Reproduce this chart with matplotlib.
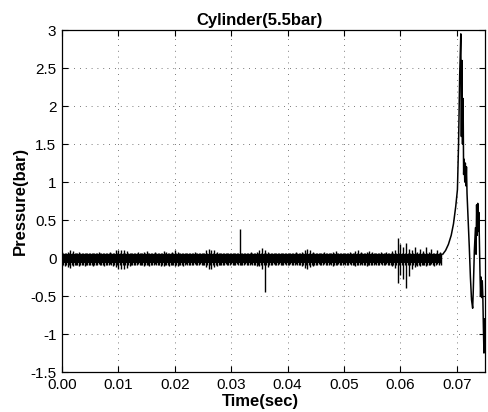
import numpy as np
import matplotlib
matplotlib.use('Agg')
import matplotlib.pyplot as plt
from matplotlib.ticker import FuncFormatter

# noise band of the baseline, one column every 0.5 ms (values in bar/100)
step = 0.0005
band_hi = [8, 7, 8, 10, 9, 7, 8, 7, 6, 7,
           7, 6, 7, 8, 7, 6, 7, 8, 7, 10,
           10, 11, 10, 9, 7, 6, 7, 8, 7, 8,
           9, 7, 6, 8, 7, 7, 9, 8, 7, 8,
           10, 8, 7, 6, 7, 7, 6, 8, 7, 6,
           7, 10, 12, 11, 10, 8, 7, 6, 7, 7,
           6, 7, 7, 38, 7, 6, 7, 8, 7, 8,
           10, 13, 10, 8, 7, 6, 7, 7, 6, 7,
           7, 6, 7, 8, 7, 8, 11, 12, 11, 8,
           7, 6, 7, 8, 7, 7, 8, 9, 7, 7,
           6, 7, 8, 7, 9, 10, 8, 7, 8, 9,
           8, 7, 7, 8, 7, 8, 7, 9, 10, 27,
           18, 15, 20, 12, 10, 14, 8, 12, 9, 14,
           8, 12, 7, 10, 8]
band_lo = [-11, -10, -12, -13, -11, -9, -10, -9, -10, -9,
           -9, -10, -9, -8, -9, -10, -9, -8, -10, -12,
           -14, -15, -14, -13, -10, -9, -9, -8, -9, -10,
           -9, -10, -9, -8, -9, -11, -10, -9, -10, -9,
           -10, -11, -9, -10, -8, -9, -9, -8, -9, -8,
           -9, -12, -15, -14, -12, -10, -9, -9, -8, -9,
           -8, -9, -8, -9, -9, -8, -9, -8, -9, -10,
           -11, -14, -45, -12, -9, -8, -9, -8, -9, -8,
           -9, -8, -9, -8, -9, -10, -13, -14, -12, -10,
           -9, -8, -9, -8, -9, -8, -10, -9, -8, -9,
           -8, -9, -8, -9, -10, -9, -8, -9, -10, -9,
           -9, -8, -9, -8, -9, -8, -9, -10, -13, -33,
           -22, -27, -40, -24, -14, -12, -10, -11, -9, -10,
           -9, -8, -10, -8, -7]
core_hi = 5    # solid part of the band
core_lo = -7

# pressure burst at the end
t_burst = [0.0675, 0.0680, 0.0685, 0.0690, 0.0694, 0.0698, 0.0701, 0.0703, 0.0705, 0.0707,
           0.0708, 0.0709, 0.0710, 0.0711, 0.0712, 0.0713, 0.0714, 0.0715, 0.0716, 0.0717,
           0.0718, 0.0720, 0.0722, 0.0724, 0.0726, 0.0728, 0.0729, 0.0731, 0.0733, 0.0734,
           0.0735, 0.0736, 0.0737, 0.0738, 0.0739, 0.0740, 0.0741, 0.0742, 0.0743, 0.0744,
           0.0745, 0.0746, 0.0747, 0.0748, 0.0749, 0.0750]
p_burst = [0.05, 0.10, 0.18, 0.30, 0.45, 0.68, 0.90, 1.50, 2.40, 2.95,
           1.60, 2.60, 1.50, 2.10, 1.10, 1.30, 1.00, 1.25, 0.95, 1.20,
           0.85, 0.50, 0.15, -0.25, -0.55, -0.66, -0.45, 0.10, 0.40, 0.05,
           0.70, 0.30, 0.72, 0.35, 0.60, 0.20, -0.20, -0.50, -0.25, -0.52,
           -0.30, -0.50, -0.90, -1.25, -0.80, -1.10]

x_ticks = [0.00, 0.01, 0.02, 0.03, 0.04, 0.05, 0.06, 0.07]
y_ticks = [-1.5, -1, -0.5, 0, 0.5, 1, 1.5, 2, 2.5, 3]

t_col = np.arange(len(band_hi)) * step
hi = np.array(band_hi) / 100.0
lo = np.array(band_lo) / 100.0
fill_hi = np.minimum(hi, core_hi / 100.0)
fill_lo = np.maximum(lo, core_lo / 100.0)

plt.rcParams['font.family'] = ['Liberation Sans', 'DejaVu Sans']

fig = plt.figure(figsize=(4.88, 4.12), dpi=100)
ax = fig.add_axes([0.127, 0.097, 0.867, 0.83])
ax.grid(True, color='black', linestyle=(0, (1, 6)), linewidth=0.6, alpha=0.7)

# dense noisy trace: solid core plus individual spikes
ax.fill_between(t_col, fill_lo, fill_hi, step='mid', color='black', linewidth=0)
ax.vlines(t_col, lo, hi, color='black', linewidth=1.0)
ax.vlines(t_col + step / 2, fill_lo - 0.02, fill_hi + 0.02, color='black', linewidth=1.0)
ax.plot(t_burst, p_burst, color='black', linewidth=1.1)

ax.set_xlim(0, 0.075)
ax.set_ylim(-1.5, 3)
ax.set_xticks(x_ticks)
ax.set_yticks(y_ticks)
ax.xaxis.set_major_formatter(FuncFormatter(lambda v, pos: '%.2f' % v))
ax.yaxis.set_major_formatter(FuncFormatter(lambda v, pos: '%g' % v))
ax.tick_params(direction='in', length=4, width=0.8, top=True, right=True,
               labelsize=11, pad=4)
for s in ax.spines.values():
    s.set_linewidth(0.9)

ax.set_title('Cylinder(5.5bar)', fontsize=12, fontweight='bold', x=0.466, pad=4)
ax.set_xlabel('Time(sec)', fontsize=12, fontweight='bold')
ax.xaxis.set_label_coords(0.47, -0.065)
ax.set_ylabel('Pressure(bar)', fontsize=12, fontweight='bold', labelpad=2)

fig.savefig('out.png', dpi=100)
